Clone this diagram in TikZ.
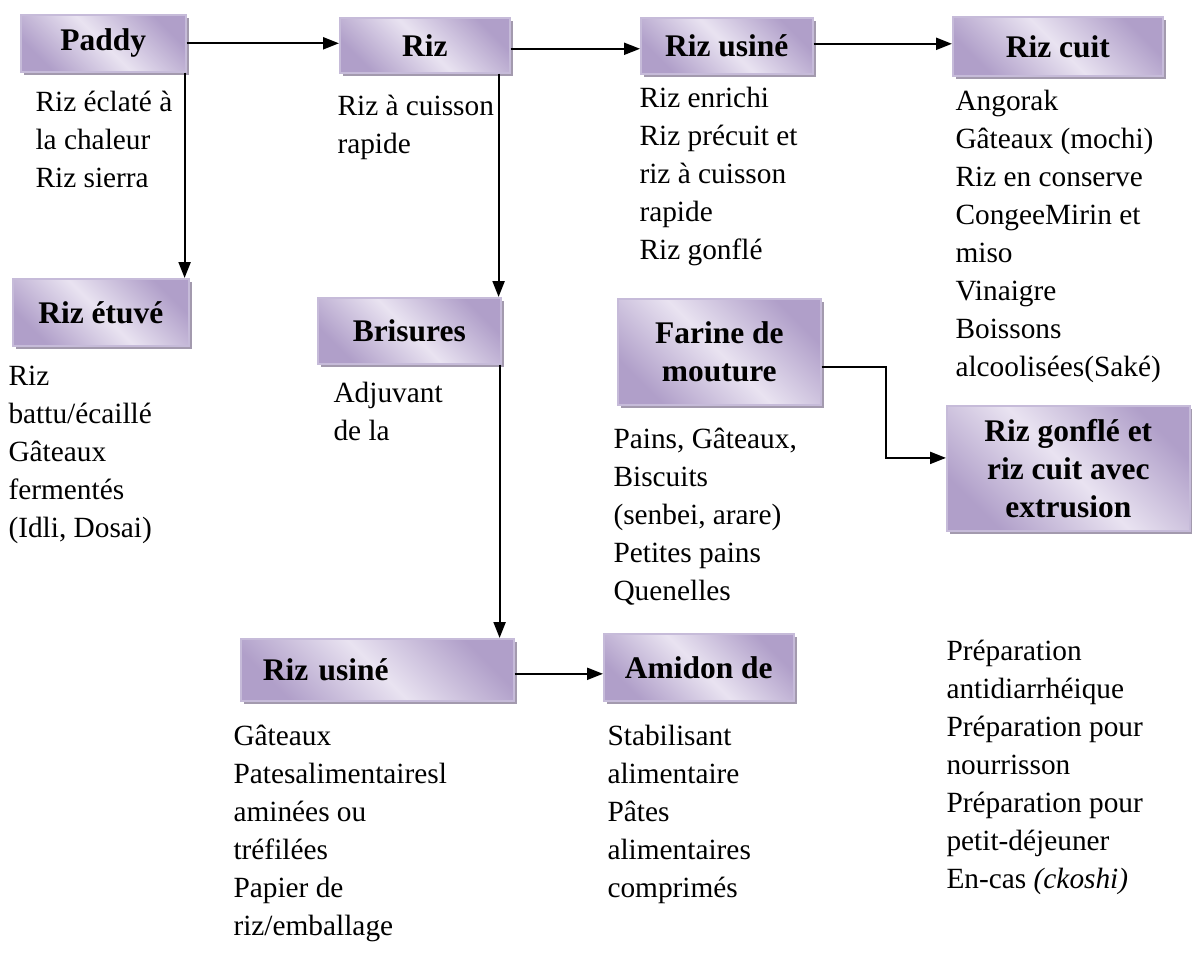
\documentclass[tikz,border=0pt]{standalone}
\usepackage{fontspec}
\setmainfont{Liberation Serif}
\usetikzlibrary{arrows.meta,shadows}
\definecolor{boxdark}{HTML}{B09FC9}
\definecolor{boxlight}{HTML}{E9E3F1}
\definecolor{boxedge}{HTML}{C6BBD9}
\definecolor{boxshadow}{HTML}{A39AAE}
\newcommand\pxu{0.375pt}
\begin{document}
\begin{tikzpicture}[x=0.375pt,y=-0.375pt,
  box/.style={draw=boxedge, line width=0.6pt,
    left color=boxdark, right color=boxdark, middle color=boxlight, shading angle=135,
    general shadow={fill=boxshadow, shadow xshift=1.3pt, shadow yshift=-1.3pt},
    font=\fontsize{11.8}{14.25}\selectfont\bfseries, align=center, inner sep=0pt, anchor=north west},
  txt/.style={font=\fontsize{11}{14.25}\selectfont, align=left, inner sep=0pt, anchor=north west},
  arr/.style={-{Triangle[length=6pt,width=4.5pt]}, line width=0.8pt}]
\useasboundingbox (0,0) rectangle (1192,958);

% boxes
\node[box, minimum width=165*\pxu, minimum height=57*\pxu] (paddy) at (20,14) {Paddy};
\node[box, minimum width=170*\pxu, minimum height=55*\pxu] (riz) at (339,17) {Riz};
\node[box, minimum width=172*\pxu, minimum height=56*\pxu] (rut) at (640,17) {Riz usiné};
\node[box, minimum width=210*\pxu, minimum height=59*\pxu] (cuit) at (952,16) {Riz cuit};
\node[box, minimum width=176*\pxu, minimum height=67*\pxu] (etuve) at (12,278) {Riz étuvé};
\node[box, minimum width=183*\pxu, minimum height=66*\pxu] (bris) at (317,297) {Brisures};
\node[box, minimum width=203*\pxu, minimum height=106*\pxu] (farine) at (617,298) {Farine de\\mouture};
\node[box, minimum width=243*\pxu, minimum height=125*\pxu] (gonfle) at (946,405) {Riz gonflé et\\riz cuit avec\\extrusion};
\node[box, minimum width=273*\pxu, minimum height=62*\pxu, text width=229*\pxu, align=left] (rub) at (240,638) {Riz usiné};
\node[box, minimum width=190*\pxu, minimum height=67*\pxu] (amidon) at (603,633) {Amidon de};

% texts
\node[txt] (tpaddy) at (35,84.4) {\strut Riz éclaté à\\la chaleur\\Riz sierra};
\node[txt] (triz) at (337,88.4) {\strut Riz à cuisson\\rapide};
\node[txt] (trut) at (639,80.4) {\strut Riz enrichi\\Riz précuit et\\riz à cuisson\\rapide\\Riz gonflé};
\node[txt] (tcuit) at (955,83.4) {\strut Angorak\\Gâteaux (mochi)\\Riz en conserve\\CongeeMirin et\\miso\\Vinaigre\\Boissons\\alcoolisées(Saké)};
\node[txt] (tetuve) at (8,358.4) {\strut Riz\\battu/écaillé\\Gâteaux\\fermentés\\(Idli, Dosai)};
\node[txt] (tbris) at (333,375.4) {\strut Adjuvant\\de la};
\node[txt] (tfar) at (613,421.4) {\strut Pains, Gâteaux,\\Biscuits\\(senbei, arare)\\Petites pains\\Quenelles};
\node[txt] (trub) at (233,718.4) {\strut Gâteaux\\Patesalimentairesl\\aminées ou\\tréfilées\\Papier de\\riz/emballage};
\node[txt] (tami) at (607,718.4) {\strut Stabilisant\\alimentaire\\Pâtes\\alimentaires\\comprimés};
\node[txt] (tprep) at (946,633.4) {\strut Préparation\\antidiarrhéique\\Préparation pour\\nourrisson\\Préparation pour\\petit-déjeuner\\En-cas \textit{(ckoshi)}};

% connector helper points
\coordinate (pd) at ([xshift=-0.75pt]paddy.south east);
\coordinate (rd) at ([xshift=-4.5pt]riz.south east);
\coordinate (bd) at ([xshift=-0.75pt]bris.south east);
\coordinate (re) at ([yshift=-1.3pt]riz.east);
\coordinate (ue) at ([yshift=0.75pt]rut.east);
\coordinate (fe) at ([yshift=-5.6pt]farine.east);
\coordinate (gw) at ([yshift=3.9pt]gonfle.west);
\coordinate (fk) at (886,0);
\coordinate (be) at ([yshift=-1.5pt]rub.east);

% connectors
\draw[arr] (paddy.east) -- (paddy.east -| riz.west);
\draw[arr] (pd) -- (pd |- etuve.north);
\draw[arr] (re) -- (re -| rut.west);
\draw[arr] (rd) -- (rd |- bris.north);
\draw[arr] (ue) -- (ue -| cuit.west);
\draw[arr] (bd) -- (bd |- rub.north);
\draw[arr] (fe) -- (fe -| fk) |- (gw);
\draw[arr] (be) -- (be -| amidon.west);
\end{tikzpicture}
\end{document}
